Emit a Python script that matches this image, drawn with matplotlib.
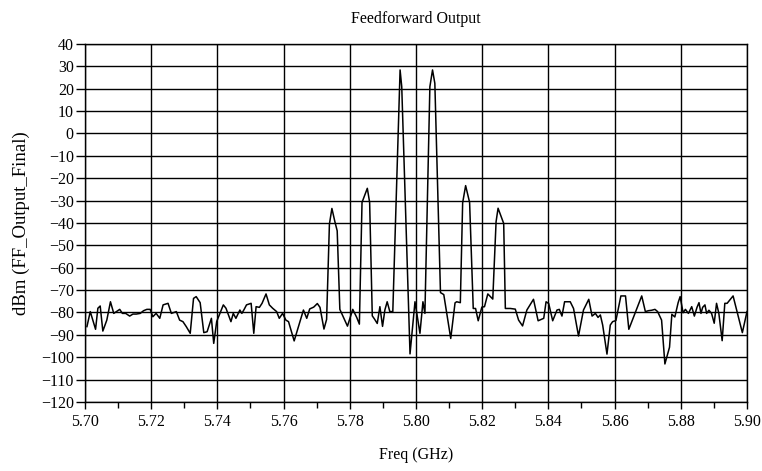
import numpy as np
import matplotlib
matplotlib.use("Agg")
import matplotlib.pyplot as plt
from matplotlib.ticker import MultipleLocator, FormatStrFormatter

# Spectrum: offset from 5.70 GHz in MHz, level in dBm
offset_mhz = [
    0.6, 1.6, 3.2, 3.9, 4.6, 5.4, 6.6, 7.7, 8.7, 9.5,
    10.5, 11.3, 12.3, 13.5, 14.5, 15.5, 16.7, 17.7, 18.7, 19.7,
    20.5, 21.5, 22.6, 23.6, 25.1, 26.1, 27.6, 28.6, 29.6, 30.6,
    31.8, 32.8, 33.6, 34.8, 35.9, 36.9, 38.2, 38.9, 39.8, 41.8,
    42.6, 44.1, 44.8, 45.6, 46.8, 47.4, 48.1, 48.8, 50.2, 51.0,
    51.7, 52.7, 53.5, 54.7, 55.7, 56.7, 57.9, 58.7, 59.7, 60.7,
    61.5, 63.2, 64.8, 66.0, 67.0, 67.9, 69.1, 70.2, 71.0, 72.2,
    73.0, 73.85, 74.6, 75.5, 76.2, 77.0, 78.0, 79.3, 80.9, 82.1,
    82.9, 83.7, 85.3, 86.0, 86.8, 87.5, 88.3, 89.1, 89.9, 90.6,
    91.3, 92.1, 93.0, 95.2, 95.7, 98.2, 99.7, 101.2, 102.1, 102.7,
    104.2, 105.0, 105.7, 107.4, 108.4, 110.5, 111.8, 112.3, 113.4, 114.1,
    115.0, 116.2, 117.3, 118.0, 118.8, 119.9, 120.7, 121.7, 122.5, 123.2,
    124.2, 124.8, 126.5, 127.0, 128.5, 130.0, 131.0, 132.2, 133.5, 135.5,
    136.9, 138.6, 139.3, 140.1, 141.3, 142.6, 143.3, 144.1, 144.9, 146.6,
    147.6, 149.1, 150.6, 152.2, 153.2, 154.2, 155.0, 155.7, 156.4, 157.7,
    158.7, 159.4, 160.4, 161.9, 163.3, 164.3, 168.2, 169.3, 170.2, 171.2,
    172.2, 173.0, 174.2, 175.2, 176.6, 177.3, 178.2, 179.2, 179.8, 180.7,
    181.4, 182.3, 183.3, 184.1, 184.9, 185.5, 186.1, 186.6, 187.3, 187.8,
    188.5, 189.3, 190.1, 190.8, 191.5, 192.5, 193.3, 194.0, 194.8, 195.8,
    196.9, 198.6, 200.0,
]
level_dbm = [
    -86.3, -79.6, -87.5, -78.1, -77.1, -88.3, -83.4, -75.2, -80.4, -79.6,
    -78.6, -80.4, -80.4, -81.6, -80.7, -80.7, -80.4, -79.2, -78.6, -78.6,
    -81.9, -80.4, -82.6, -76.6, -75.9, -80.4, -79.6, -83.4, -84.1, -86.3,
    -89.3, -73.7, -72.9, -75.6, -89.0, -88.6, -82.6, -93.8, -84.0, -76.6,
    -78.1, -84.1, -80.4, -82.6, -78.9, -80.4, -78.6, -76.6, -75.9, -89.3,
    -77.4, -77.7, -75.9, -71.7, -76.6, -78.1, -79.6, -82.6, -80.4, -83.4,
    -84.1, -92.7, -84.8, -78.9, -82.6, -78.4, -77.6, -76.0, -77.7, -87.4,
    -83.1, -40.5, -33.5, -39.4, -43.5, -78.6, -81.9, -86.1, -78.6, -82.2,
    -85.2, -30.8, -24.5, -30.8, -81.5, -83.0, -84.9, -77.4, -86.2, -78.9,
    -75.2, -79.6, -79.6, 28.4, 20.9, -98.5, -75.2, -89.3, -75.2, -80.4,
    20.9, 28.4, 22.4, -71.1, -72.0, -91.6, -75.7, -75.2, -75.6, -31.0,
    -23.3, -30.8, -78.2, -78.2, -83.7, -77.6, -77.4, -71.7, -72.9, -74.0,
    -39.4, -33.4, -40.2, -78.2, -78.2, -78.5, -83.4, -86.0, -78.9, -74.1,
    -83.7, -82.6, -75.2, -76.0, -83.7, -78.9, -78.6, -81.6, -75.2, -75.2,
    -78.2, -90.5, -78.9, -74.1, -81.6, -80.4, -82.2, -81.1, -85.6, -98.6,
    -85.6, -84.1, -83.6, -72.6, -72.6, -87.5, -72.6, -79.6, -79.2, -79.0,
    -78.6, -79.6, -83.4, -103.0, -95.5, -80.8, -82.0, -75.6, -72.9, -80.1,
    -78.6, -80.4, -77.4, -81.6, -77.7, -75.6, -80.4, -77.7, -76.6, -80.4,
    -79.0, -80.4, -84.8, -75.9, -80.4, -92.6, -75.9, -75.9, -74.4, -72.6,
    -79.0, -89.0, -79.6,
]

freq_ghz = 5.70 + np.array(offset_mhz) / 1000.0

plt.rcParams['font.family'] = ['Liberation Serif', 'DejaVu Serif']
plt.rcParams['axes.unicode_minus'] = True

fig = plt.figure(figsize=(7.62, 4.71), dpi=100)
ax = fig.add_axes([0.1115, 0.1465, 0.8688, 0.7601])

ax.plot(freq_ghz, level_dbm, color='black', linewidth=1.1)

ax.set_xlim(5.70, 5.90)
ax.set_ylim(-120, 40)
ax.xaxis.set_major_locator(MultipleLocator(0.02))
ax.xaxis.set_minor_locator(MultipleLocator(0.01))
ax.xaxis.set_major_formatter(FormatStrFormatter('%.2f'))
ax.yaxis.set_major_locator(MultipleLocator(10))

ax.grid(True, which='major', color='black', linewidth=1.0)
ax.tick_params(axis='both', which='major', direction='out', length=5,
               width=1.0, labelsize=11.5, colors='black')
ax.tick_params(axis='x', which='minor', direction='out', length=4, width=1.0)
ax.tick_params(axis='x', which='major', pad=4)
ax.tick_params(axis='y', which='major', length=6.5, pad=1.5)
for s in ax.spines.values():
    s.set_linewidth(1.0)
    s.set_color('black')

ax.set_title('Feedforward Output', fontsize=11.5, pad=15)
ax.set_xlabel('Freq (GHz)', fontsize=11.5, labelpad=12)
ax.set_ylabel('dBm (FF_Output_Final)', fontsize=13.5, labelpad=8)

fig.savefig('out.png', dpi=100)
